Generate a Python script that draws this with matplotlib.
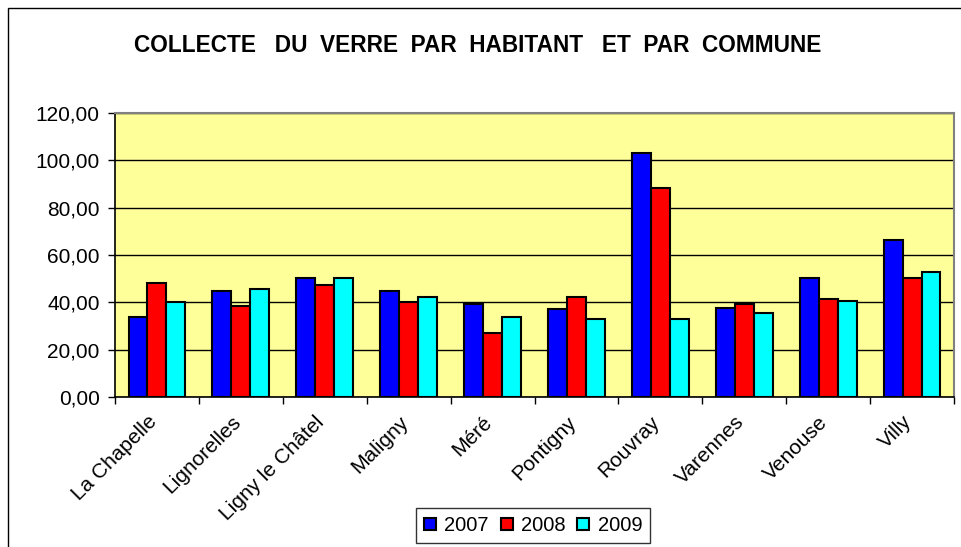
import numpy as np
import matplotlib
matplotlib.use("Agg")
import matplotlib.pyplot as plt
import matplotlib.transforms as mtransforms
from matplotlib.patches import Rectangle
from matplotlib.ticker import FuncFormatter

communes = ["La Chapelle", "Lignorelles", "Ligny le Châtel", "Maligny", "Méré",
            "Pontigny", "Rouvray", "Varennes", "Venouse", "Villy"]
v2007 = [33.7, 44.9, 50.4, 44.9, 39.2, 37.0, 103.2, 37.7, 50.4, 66.3]
v2008 = [48.0, 38.6, 47.2, 40.1, 27.2, 42.4, 88.2, 39.3, 41.5, 50.4]
v2009 = [40.1, 45.6, 50.4, 42.4, 33.7, 33.0, 32.8, 35.3, 40.7, 52.9]
years = ["2007", "2008", "2009"]
colors = ["#0000FF", "#FF0000", "#00FFFF"]

plt.rcParams['font.family'] = ['Liberation Sans', 'DejaVu Sans']

W, H = 962, 547
fig = plt.figure(figsize=(W / 100, H / 100), dpi=100)
ax = fig.add_axes([115 / W, 1 - 397 / H, (954 - 115) / W, (397 - 113) / H])

# chart border (cut off at right/bottom like the original)
fig.patches.append(Rectangle((8 / W, -0.1), 1.2, 1 - 8 / H + 0.1, transform=fig.transFigure,
                             fill=False, edgecolor="black", linewidth=1.0))

x = np.arange(len(communes))
w = 0.226
for i, (vals, col, yr) in enumerate(zip([v2007, v2008, v2009], colors, years)):
    ax.bar(x + (i - 1) * w, vals, w, color=col, edgecolor="black", linewidth=1.5,
           label=yr, zorder=3)

ax.set_facecolor("#FFFF99")
ax.set_xlim(-0.5, len(communes) - 0.5)
ax.set_ylim(0, 120)
ax.set_yticks(np.arange(0, 121, 20))
ax.yaxis.set_major_formatter(FuncFormatter(lambda v, p: f"{v:.2f}".replace(".", ",")))
ax.grid(axis="y", color="black", linewidth=1.0, zorder=1)

ax.set_xticks(x)
ax.set_xticklabels(communes, rotation=45, ha="right", rotation_mode="anchor", fontsize=15)
ax.tick_params(axis="x", which="major", length=0, pad=11)
shift = mtransforms.ScaledTranslation(-10 / 100, 0, fig.dpi_scale_trans)
for lab in ax.get_xticklabels():
    lab.set_transform(lab.get_transform() + shift)
ax.set_xticks(np.arange(-0.5, len(communes), 1), minor=True)
ax.tick_params(axis="x", which="minor", length=5, color="black", width=1)
ax.tick_params(axis="y", labelsize=15, length=5, width=1, pad=6)

for s in ["top", "right"]:
    ax.spines[s].set_color("#808080")
    ax.spines[s].set_linewidth(1.5)
for s in ["left", "bottom"]:
    ax.spines[s].set_color("black")
    ax.spines[s].set_linewidth(1.2)

fig.text(478 / W, 1 - 45 / H, "COLLECTE   DU  VERRE  PAR  HABITANT   ET  PAR  COMMUNE",
         ha="center", va="center", fontsize=16.3, fontweight="bold")

leg = fig.legend(loc="upper center", bbox_to_anchor=(533 / W, 1 - 508 / H), ncol=3,
                 fontsize=14.5, frameon=True, fancybox=False, handlelength=0.6,
                 handleheight=0.6, handletextpad=0.4, columnspacing=0.6, borderpad=0.4,
                 borderaxespad=0)
leg.get_frame().set_edgecolor("black")
leg.get_frame().set_linewidth(1.0)

fig.savefig("out.png", dpi=100)
